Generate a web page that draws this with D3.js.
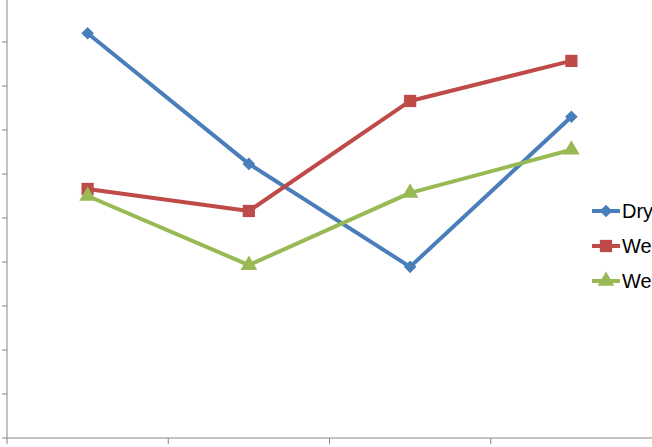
<!DOCTYPE html>
<html><head><meta charset="utf-8">
<script src="https://cdn.jsdelivr.net/npm/d3@7"></script>
<style>body{margin:0;background:#fff;overflow:hidden}</style>
</head><body>
<svg id="c" width="652" height="447"></svg>
<script>
const categories = ["A", "B", "C", "D"];
const dry = [9.2, 6.23, 3.89, 7.3];
const wet1 = [5.66, 5.16, 7.66, 8.57];
const wet2 = [5.5, 3.93, 5.57, 6.55];
const seriesNames = ["Dry season", "Wet season 1", "Wet season 2"];
const yTicks = d3.range(0, 11);

const svg = d3.select("#c");
const x = d3.scaleBand().domain(categories).range([7, 652]).padding(0);
const y = d3.scaleLinear().domain([0, 10]).range([438, -2]);
const gray = "#868686";

// axes
svg.append("line").attr("x1", 7).attr("x2", 7).attr("y1", 0).attr("y2", 438).attr("stroke", gray);
svg.append("line").attr("x1", 7).attr("x2", 652).attr("y1", 438).attr("y2", 438).attr("stroke", gray);
svg.selectAll(".yt").data(yTicks).enter().append("line")
  .attr("x1", 2).attr("x2", 7).attr("y1", d => y(d)).attr("y2", d => y(d)).attr("stroke", gray);
svg.selectAll(".xt").data(categories).enter().append("line")
  .attr("x1", d => x(d)).attr("x2", d => x(d)).attr("y1", 438).attr("y2", 444).attr("stroke", gray);

// diamond = square turned 45 degrees
const series = [
  { name: seriesNames[0], values: dry, color: "#4a7ebb", shape: d3.symbolSquare, size: 80, rot: 45 },
  { name: seriesNames[1], values: wet1, color: "#be4b48", shape: d3.symbolSquare, size: 150, rot: 0 },
  { name: seriesNames[2], values: wet2, color: "#98b954", shape: d3.symbolTriangle, size: 120, rot: 0 }
];
const cx = d => x(d) + x.bandwidth() / 2;
const line = d3.line().x((v, i) => cx(categories[i])).y(v => y(v));

series.forEach(s => {
  svg.append("path").attr("d", line(s.values)).attr("fill", "none")
    .attr("stroke", s.color).attr("stroke-width", 4).attr("stroke-linejoin", "round");
  svg.selectAll(null).data(s.values).enter().append("path")
    .attr("d", d3.symbol().type(s.shape).size(s.size))
    .attr("transform", (v, i) => `translate(${cx(categories[i])},${y(v)}) rotate(${s.rot})`)
    .attr("fill", s.color);
});

// legend
const lg = svg.append("g").attr("transform", "translate(592,211)");
series.forEach((s, i) => {
  const g = lg.append("g").attr("transform", `translate(0,${i * 35})`);
  g.append("line").attr("x1", 0).attr("x2", 28).attr("stroke", s.color).attr("stroke-width", 4);
  g.append("path").attr("d", d3.symbol().type(s.shape).size(s.size)).attr("transform", `translate(14,0) rotate(${s.rot})`).attr("fill", s.color);
  g.append("text").attr("x", 30).attr("y", 7).attr("font-family", "Liberation Sans, Arial").attr("font-size", 20).text(s.name);
});
</script>
</body></html>
